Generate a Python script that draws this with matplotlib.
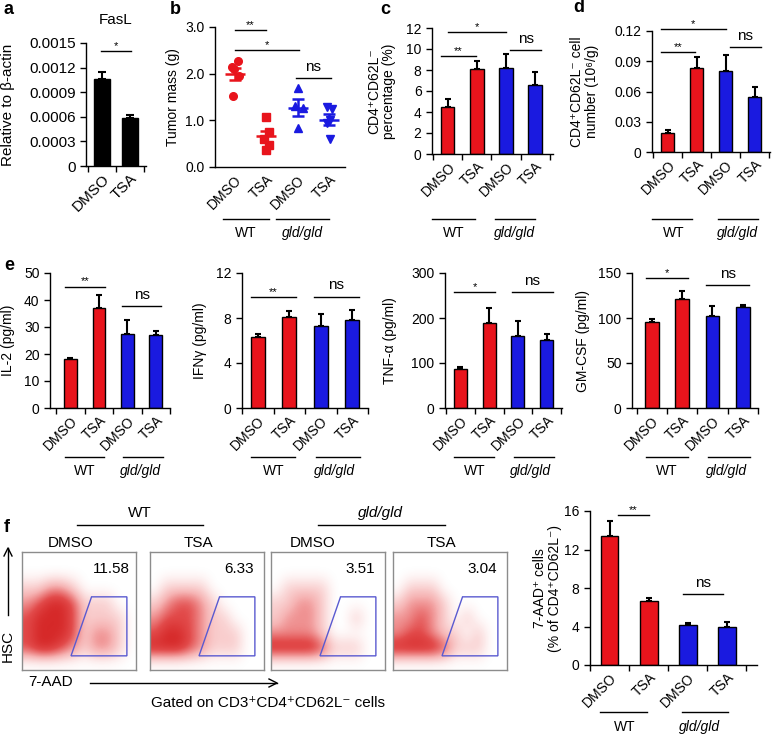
import numpy as np
import matplotlib.pyplot as plt
from matplotlib import transforms
from matplotlib.colors import LinearSegmentedColormap
from matplotlib.patches import Polygon

plt.rcParams['font.family'] = ['Liberation Sans', 'DejaVu Sans']
plt.rcParams['font.size'] = 10
plt.rcParams['axes.linewidth'] = 1.0

RED = '#e8141c'
BLUE = '#1a1ae0'

# ---- data ----
cats = ['DMSO', 'TSA', 'DMSO', 'TSA']
bar_cols = [RED, RED, BLUE, BLUE]

# a: FasL
fasl_cats = ['DMSO', 'TSA']
fasl = [0.00106, 0.00059]
fasl_err = [0.00009, 0.00003]

# b: tumor mass (individual mice)
tumor_wt_dmso = [2.27, 2.15, 2.10, 1.95, 1.52]
tumor_wt_tsa = [1.08, 0.75, 0.60, 0.48, 0.37]
tumor_gld_dmso = [1.69, 1.30, 1.27, 0.83]
tumor_gld_tsa = [1.28, 1.25, 1.00, 0.95, 0.60]

# c: CD4+CD62L- percentage
pct = [4.47, 8.1, 8.2, 6.6]
pct_err = [0.8, 0.75, 1.3, 1.2]

# d: CD4+CD62L- cell number
num = [0.0185, 0.083, 0.080, 0.055]
num_err = [0.003, 0.011, 0.016, 0.009]

# e: cytokines
il2 = [18.0, 37.0, 27.4, 27.0]
il2_err = [0.6, 4.8, 5.3, 1.5]
ifng = [6.3, 8.1, 7.25, 7.85]
ifng_err = [0.3, 0.5, 1.15, 0.85]
tnfa = [87, 190, 161, 151]
tnfa_err = [4, 33, 33, 13]
gmcsf = [95.5, 121, 102, 112]
gmcsf_err = [3, 8.5, 11, 3]

# f: 7-AAD+ cells
aad = [13.4, 6.6, 4.2, 3.95]
aad_err = [1.6, 0.35, 0.17, 0.5]

# f: flow plots, gate percentages and coarse dot densities (rows top->bottom)
flow_titles = ['DMSO', 'TSA', 'DMSO', 'TSA']
flow_pct = ['11.58', '6.33', '3.51', '3.04']
dens_wt_dmso = [[0, 0, 0, 0, 0, 0, 0, 0, 0, 0],
                [0, 0, 0, 0, 0, 0, 0, 0, 0, 0],
                [1, 1, 2, 2, 1, 0, 0, 0, 0, 0],
                [2, 3, 4, 4, 3, 1, 1, 1, 0, 0],
                [3, 4, 4, 4, 3, 1, 1, 1, 1, 0],
                [3, 4, 4, 4, 3, 1, 2, 2, 1, 0],
                [3, 4, 4, 3, 2, 1, 2, 2, 1, 0],
                [0, 0, 0, 0, 0, 0, 0, 0, 0, 0]]
dens_wt_tsa = [[0, 0, 0, 0, 0, 0, 0, 0, 0, 0],
               [0, 0, 0, 0, 0, 0, 0, 0, 0, 0],
               [0, 1, 1, 1, 1, 0, 0, 0, 0, 0],
               [1, 2, 3, 3, 2, 1, 0, 0, 0, 0],
               [2, 3, 3, 3, 2, 1, 1, 0, 0, 0],
               [3, 4, 4, 3, 2, 1, 1, 1, 0, 0],
               [4, 4, 4, 3, 2, 1, 1, 1, 0, 0],
               [0, 0, 0, 0, 0, 0, 0, 0, 0, 0]]
dens_gld_dmso = [[0, 0, 0, 0, 0, 0, 0, 0, 0, 0],
                 [0, 0, 0, 0, 0, 0, 0, 0, 0, 0],
                 [0, 1, 1, 1, 1, 0, 0, 0, 0, 0],
                 [1, 1, 2, 2, 1, 0, 0, 0, 0, 0],
                 [1, 2, 2, 2, 1, 0, 0, 1, 0, 0],
                 [2, 2, 2, 2, 1, 0, 0, 0, 0, 0],
                 [4, 4, 4, 4, 3, 1, 1, 1, 0, 0],
                 [0, 0, 0, 0, 0, 0, 0, 0, 0, 0]]
dens_gld_tsa = [[0, 0, 0, 0, 0, 0, 0, 0, 0, 0],
                [0, 0, 0, 0, 0, 0, 0, 0, 0, 0],
                [0, 1, 1, 1, 0, 0, 0, 0, 0, 0],
                [1, 2, 2, 2, 1, 0, 0, 0, 0, 0],
                [2, 2, 3, 2, 1, 0, 1, 0, 0, 0],
                [2, 3, 3, 2, 1, 1, 0, 1, 0, 0],
                [4, 4, 4, 4, 3, 1, 1, 1, 0, 0],
                [0, 0, 0, 0, 0, 0, 0, 0, 0, 0]]

W, H = 772, 736
fig = plt.figure(figsize=(W / 100, H / 100), dpi=100)


def px_ax(left, top, right, bottom):
    return fig.add_axes([left / W, 1 - bottom / H, (right - left) / W, (bottom - top) / H])


def style(ax, yticks, ylabels, xlim, labels, fs=10):
    ax.spines[['top', 'right']].set_visible(False)
    ax.set_ylim(yticks[0], yticks[-1])
    ax.set_yticks(yticks, ylabels, fontsize=fs)
    ax.set_xlim(*xlim)
    ax.set_xticks(range(len(labels)), labels, rotation=45, ha='right',
                  rotation_mode='anchor', fontsize=fs)
    ax.set_xticks(np.arange(-0.5, len(labels)), minor=True)
    ax.tick_params(axis='y', direction='out', length=4, width=1)
    ax.tick_params(axis='x', which='major', length=0, pad=4)
    ax.tick_params(axis='x', which='minor', direction='out', length=4, width=1)


def ylab(ax, text, x_px, fs=10):
    pos = ax.get_position()
    ax.set_ylabel(text, fontsize=fs, linespacing=1.1)
    ax.yaxis.set_label_coords((x_px / W - pos.x0) / pos.width, 0.5)


def bars(ax, vals, errs, width=0.45):
    x = np.arange(len(vals))
    ax.bar(x, vals, width=width, color=bar_cols[:len(vals)], edgecolor='k', linewidth=1, zorder=2)
    ax.errorbar(x, vals, yerr=[np.zeros(len(vals)), errs], fmt='none', ecolor='k',
                elinewidth=1.5, capsize=2.5, capthick=1.5, zorder=1)


def sig(ax, x0, x1, y, label):
    ax.plot([x0, x1], [y, y], color='k', lw=1, clip_on=False)
    if label == 'ns':
        ax.annotate(label, xy=((x0 + x1) / 2, y), xytext=(0, 3), textcoords='offset points',
                    ha='center', va='bottom', fontsize=11, annotation_clip=False)
    else:
        ax.annotate(label, xy=((x0 + x1) / 2, y), xytext=(0, 0), textcoords='offset points',
                    ha='center', va='bottom', fontsize=8, annotation_clip=False)


def groups(ax, y_line, y_text, spans=((-0.35, 1.05), (1.6, 3.1)), centers=(0.35, 2.35), fs=10):
    tr = transforms.blended_transform_factory(ax.transData, fig.transFigure)
    for (x0, x1), xc, name, st in zip(spans, centers, ['WT', 'gld/gld'], ['normal', 'italic']):
        ax.plot([x0, x1], [1 - y_line / H] * 2, color='k', lw=1, transform=tr, clip_on=False)
        ax.text(xc, 1 - y_text / H, name, transform=tr, ha='center', va='center',
                fontsize=fs, fontstyle=st)


def letter(x, y, s):
    fig.text(x / W, 1 - y / H, s, fontsize=13, fontweight='bold', ha='left', va='center')


# ---- a ----
ax = px_ax(86, 43, 146, 166)
style(ax, [0, 0.0003, 0.0006, 0.0009, 0.0012, 0.0015],
      ['0', '0.0003', '0.0006', '0.0009', '0.0012', '0.0015'], (-0.57, 1.57), fasl_cats, fs=11)
x = np.arange(2)
ax.bar(x, fasl, width=0.6, color='k', edgecolor='k', zorder=2)
ax.errorbar(x, fasl, yerr=[[0, 0], fasl_err], fmt='none', ecolor='k', elinewidth=1.5,
            capsize=3, capthick=1.5, zorder=1)
sig(ax, -0.05, 1.05, 0.0014, '*')
ax.set_title('FasL', fontsize=11, pad=14)
ylab(ax, 'Relative to β-actin', 15, fs=11)
letter(4, 9, 'a')

# ---- b ----
ax = px_ax(215, 27, 345, 167)
style(ax, [0, 1, 2, 3], ['0.0', '1.0', '2.0', '3.0'], (-0.63, 3.47), cats)
ax.tick_params(axis='x', which='minor', length=0)
tumor = [tumor_wt_dmso, tumor_wt_tsa, tumor_gld_dmso, tumor_gld_tsa]
jitter = [[0.1, -0.1, -0.03, 0.14, -0.05],
          [0.0, 0.1, -0.08, 0.1, 0.0],
          [0.0, -0.08, 0.15, 0.0],
          [-0.06, 0.1, 0.02, -0.08, 0.02]]
markers = ['o', 's', '^', 'v']
for i, (vals, dx, m, c) in enumerate(zip(tumor, jitter, markers, bar_cols)):
    vals = np.array(vals)
    ax.plot(i + np.array(dx), vals, m, color=c, ms=5.5, ls='none', clip_on=False)
    mean = vals.mean()
    sem = vals.std(ddof=1) / np.sqrt(len(vals))
    ax.hlines(mean, i - 0.32, i + 0.32, color=c, lw=1.8)
    ax.errorbar(i, mean, yerr=sem, fmt='none', ecolor=c, elinewidth=1.8, capsize=4, capthick=1.8)
sig(ax, 0, 1, 2.93, '**')
sig(ax, 0, 2.05, 2.5, '*')
sig(ax, 1.95, 3.05, 1.9, 'ns')
ylab(ax, 'Tumor mass (g)', 180)
groups(ax, 219, 233, spans=((-0.38, 1.07), (1.32, 3.0)), centers=(0.35, 2.16))
letter(170, 9, 'b')

# ---- c ----
ax = px_ax(432, 28, 553, 154)
style(ax, [0, 2, 4, 6, 8, 10, 12], ['0', '2', '4', '6', '8', '10', '12'], (-0.55, 3.62), cats)
bars(ax, pct, pct_err)
sig(ax, -0.25, 0.95, 9.3, '**')
sig(ax, 0, 2.0, 11.6, '*')
sig(ax, 2.15, 3.2, 9.9, 'ns')
ylab(ax, 'CD4⁺CD62L⁻\npercentage (%)', 396)
groups(ax, 219, 233, spans=((-0.55, 0.93), (1.62, 3.0)), centers=(0.2, 2.3))
letter(380, 9, 'c')

# ---- d ----
ax = px_ax(652, 31, 770, 152)
style(ax, [0, 0.03, 0.06, 0.09, 0.12], ['0', '0.03', '0.06', '0.09', '0.12'], (-0.55, 3.52), cats)
bars(ax, num, num_err)
sig(ax, -0.25, 0.95, 0.0995, '**')
sig(ax, -0.25, 2.0, 0.1217, '*')
sig(ax, 2.15, 3.2, 0.1037, 'ns')
ylab(ax, 'CD4⁺CD62L⁻ cell\nnumber (10⁶/g)', 599)
groups(ax, 219, 233, spans=((-0.55, 0.83), (1.72, 3.1)), centers=(0.2, 2.4))
letter(573, 8, 'd')

# ---- e ----
e_panels = [
    ((50, 170), (-0.72, 3.38), il2, il2_err, [0, 10, 20, 30, 40, 50], 'IL-2 (pg/ml)', 15,
     [(-0.2, 1.2, 45, '**'), (1.8, 3.2, 37.7, 'ns')]),
    ((242, 368), (-0.46, 3.44), ifng, ifng_err, [0, 4, 8, 12], 'IFNγ (pg/ml)', 207,
     [(-0.2, 1.2, 9.85, '**'), (1.8, 3.2, 9.9, 'ns')]),
    ((445, 562), (-0.52, 3.52), tnfa, tnfa_err, [0, 100, 200, 300], 'TNF-α (pg/ml)', 397,
     [(-0.2, 1.2, 258, '*'), (1.8, 3.2, 257, 'ns')]),
    ((632, 758), (-0.65, 3.42), gmcsf, gmcsf_err, [0, 50, 100, 150], 'GM-CSF (pg/ml)', 590,
     [(-0.2, 1.2, 144.5, '*'), (1.8, 3.2, 136.5, 'ns')]),
]
for (l, r), xl, vals, errs, yt, lab, lx, sigs in e_panels:
    ax = px_ax(l, 273, r, 408)
    style(ax, yt, [str(t) for t in yt], xl, cats)
    bars(ax, vals, errs)
    for s in sigs:
        sig(ax, *s)
    ylab(ax, lab, lx)
    groups(ax, 457, 471, spans=((-0.2, 1.18), (1.85, 3.25)), centers=(0.5, 2.45))
letter(4, 265, 'e')

# ---- f: flow plots ----
cmap = LinearSegmentedColormap.from_list('flow', ['white', '#f6b4b4', '#e24a4a', '#d01818'])
dens = [dens_wt_dmso, dens_wt_tsa, dens_gld_dmso, dens_gld_tsa]
box_left = [22, 150, 271, 393]
title_x = [71, 198, 313, 441]
for bl, tx, d, title, p in zip(box_left, title_x, dens, flow_titles, flow_pct):
    ax = px_ax(bl, 552, bl + 114, 670)
    ax.imshow(np.array(d), cmap=cmap, extent=[0, 1, 0, 1], aspect='auto',
              interpolation='bicubic', vmin=0, vmax=4.5, origin='upper')
    ax.add_patch(Polygon([(0.61, 0.62), (0.92, 0.62), (0.92, 0.12), (0.43, 0.12)],
                         closed=True, fill=False, edgecolor='#5a5ad0', lw=1.0))
    ax.text(0.78, 0.86, p, ha='center', va='center', fontsize=11, transform=ax.transAxes)
    ax.set_xlim(0, 1)
    ax.set_ylim(0, 1)
    ax.set_xticks([])
    ax.set_yticks([])
    for sp in ax.spines.values():
        sp.set_color('#8c8c8c')
    fig.text(tx / W, 1 - 543 / H, title, ha='center', va='center', fontsize=11)

fig.text(140 / W, 1 - 513 / H, 'WT', ha='center', va='center', fontsize=11)
fig.add_artist(plt.Line2D([77 / W, 203 / W], [1 - 525 / H] * 2, color='k', lw=1))
fig.text(380 / W, 1 - 513 / H, 'gld/gld', ha='center', va='center', fontsize=11, fontstyle='italic')
fig.add_artist(plt.Line2D([318 / W, 445 / W], [1 - 525 / H] * 2, color='k', lw=1))

# axis arrows
fig.text(8 / W, 1 - 646 / H, 'HSC', ha='center', va='center', fontsize=11, rotation=90)
fig.add_artist(plt.Line2D([8 / W, 8 / W], [1 - 615 / H, 1 - 548 / H], color='k', lw=1))
fig.add_artist(plt.Line2D([4 / W, 8 / W, 12 / W], [1 - 556 / H, 1 - 548 / H, 1 - 556 / H],
                          color='k', lw=1))
fig.text(28 / W, 1 - 682 / H, '7-AAD', ha='left', va='center', fontsize=11)
fig.add_artist(plt.Line2D([90 / W, 277 / W], [1 - 683 / H] * 2, color='k', lw=1))
fig.add_artist(plt.Line2D([269 / W, 277 / W, 269 / W], [1 - 679 / H, 1 - 683 / H, 1 - 687 / H],
                          color='k', lw=1))
fig.text(268 / W, 1 - 703 / H, 'Gated on CD3⁺CD4⁺CD62L⁻ cells', ha='center', va='center', fontsize=11)
letter(4, 527, 'f')

# ---- f: 7-AAD bar chart ----
ax = px_ax(590, 511, 757, 665)
style(ax, [0, 4, 8, 12, 16], ['0', '4', '8', '12', '16'], (-0.51, 3.77), cats)
bars(ax, aad, aad_err, width=0.44)
sig(ax, 0.2, 1.0, 15.6, '**')
sig(ax, 1.87, 2.9, 7.4, 'ns')
ylab(ax, '7-AAD⁺ cells\n(% of CD4⁺CD62L⁻)', 562)
groups(ax, 712, 727, spans=((-0.25, 0.95), (1.85, 3.03)), centers=(0.38, 2.3))

fig.savefig('out.png', dpi=100)
